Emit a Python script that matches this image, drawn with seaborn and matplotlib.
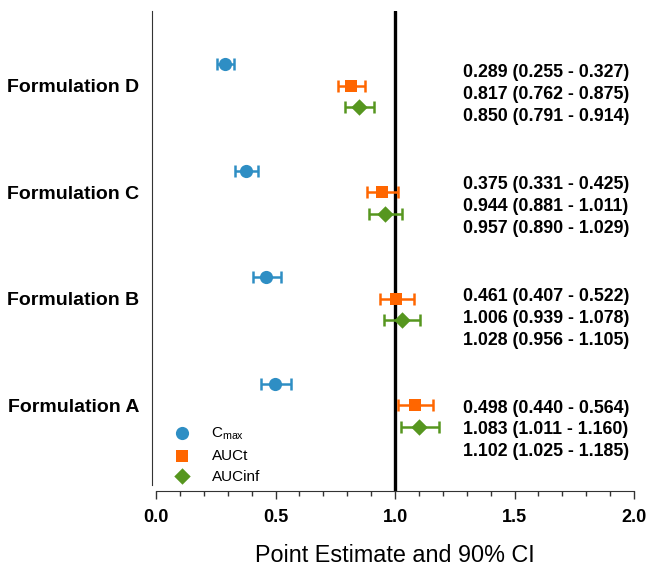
import numpy as np
import pandas as pd
import matplotlib
matplotlib.use("Agg")
import matplotlib.pyplot as plt
import seaborn as sns
from matplotlib.ticker import MultipleLocator

sns.set_style("white")
plt.rcParams['font.family'] = ['Liberation Sans', 'DejaVu Sans']
plt.rcParams['mathtext.fontset'] = 'custom'
plt.rcParams['mathtext.rm'] = 'Liberation Sans'
plt.rcParams['text.color'] = 'black'
plt.rcParams['xtick.color'] = '#333333'
plt.rcParams['xtick.labelcolor'] = 'black'
plt.rcParams['ytick.labelcolor'] = 'black'
plt.rcParams['axes.labelcolor'] = 'black'

formulations = ["Formulation D", "Formulation C", "Formulation B", "Formulation A"]
metrics = ["Cmax", "AUCt", "AUCinf"]
metric_labels = [r"C$_{\mathregular{max}}$", "AUCt", "AUCinf"]

cmax_est = [0.289, 0.375, 0.461, 0.498]
cmax_lo = [0.255, 0.331, 0.407, 0.440]
cmax_hi = [0.327, 0.425, 0.522, 0.564]
auct_est = [0.817, 0.944, 1.006, 1.083]
auct_lo = [0.762, 0.881, 0.939, 1.011]
auct_hi = [0.875, 1.011, 1.078, 1.160]
aucinf_est = [0.850, 0.957, 1.028, 1.102]
aucinf_lo = [0.791, 0.890, 0.956, 1.025]
aucinf_hi = [0.914, 1.029, 1.105, 1.185]

colors = ["#2E8EC4", "#FF6600", "#56961F"]
markers = ["o", "s", "D"]
msizes = [90, 80, 70]

group_gap = 4.95
offsets = [-1.0, 0.0, 1.0]

rows = []
for mi, (m, est, lo, hi) in enumerate(zip(metrics,
                                          [cmax_est, auct_est, aucinf_est],
                                          [cmax_lo, auct_lo, aucinf_lo],
                                          [cmax_hi, auct_hi, aucinf_hi])):
    for gi, f in enumerate(formulations):
        rows.append(dict(formulation=f, metric=metric_labels[mi], est=est[gi], lo=lo[gi], hi=hi[gi],
                         y=gi * group_gap + offsets[mi]))
df = pd.DataFrame(rows)

fig = plt.figure(figsize=(6.47, 5.70), dpi=100)
ax = fig.add_axes([156 / 647, (570 - 491) / 570, (634 - 156) / 647, (491 - 11) / 570])

for s in ["top", "right"]:
    ax.spines[s].set_visible(False)
ax.spines["left"].set_position(("outward", 3))
ax.spines["left"].set_color("#333333")
ax.spines["bottom"].set_color("#333333")

ax.axvline(1.0, color="black", lw=2.4, zorder=1)

for mi, lab in enumerate(metric_labels):
    sub = df[df.metric == lab]
    ax.errorbar(sub.est, sub.y, xerr=[sub.est - sub.lo, sub.hi - sub.est], fmt="none",
                ecolor=colors[mi], elinewidth=1.8, capsize=4.5, capthick=1.8, zorder=2)
    sns.scatterplot(data=sub, x="est", y="y", marker=markers[mi], color=colors[mi],
                    s=msizes[mi], edgecolor=colors[mi], linewidth=0, ax=ax, zorder=3, label=lab)

ax.set_xlim(0, 2.0)
unit_px = 21.5
ax.set_ylim((491 - 86) / unit_px, -(86 - 11) / unit_px)
ax.spines["left"].set_bounds((485 - 86) / unit_px, -(86 - 11) / unit_px)

ax.set_yticks([gi * group_gap for gi in range(len(formulations))])
ax.set_yticklabels(formulations, fontsize=14, fontweight="bold", color="black")
ax.tick_params(axis="y", length=0, pad=9)

ax.set_xticks(np.arange(0, 2.01, 0.5))
ax.xaxis.set_minor_locator(MultipleLocator(0.1))
ax.set_xticklabels([f"{v:.1f}" for v in np.arange(0, 2.01, 0.5)], fontsize=13, fontweight="bold", color="black")
ax.tick_params(axis="x", which="major", direction="out", length=6, width=1, color="#333333", pad=7, bottom=True)
ax.tick_params(axis="x", which="minor", direction="out", length=3.5, width=1, color="#333333", bottom=True)
ax.set_xlabel("Point Estimate and 90% CI", fontsize=16.8, labelpad=13, color="black")
ax.set_ylabel("")

# annotation texts
text_start = -0.62
text_gap = 5.20
line_gap = 1.02
for gi in range(len(formulations)):
    for mi, (est, lo, hi) in enumerate([(cmax_est, cmax_lo, cmax_hi),
                                        (auct_est, auct_lo, auct_hi),
                                        (aucinf_est, aucinf_lo, aucinf_hi)]):
        ax.text(1.285, text_start + gi * text_gap + mi * line_gap,
                f"{est[gi]:.3f} ({lo[gi]:.3f} - {hi[gi]:.3f})",
                ha="left", va="center", fontsize=12.8, fontweight="bold", color="black")

leg = ax.legend(loc="upper left", bbox_to_anchor=(0.017, (491 - 422) / 480), frameon=False,
                fontsize=11, labelspacing=0.45, handletextpad=0.9, borderaxespad=0,
                borderpad=0.2, markerscale=1.0)
for t in leg.get_texts():
    t.set_color("black")
leg.set_zorder(5)

fig.savefig("out.png", dpi=100)
